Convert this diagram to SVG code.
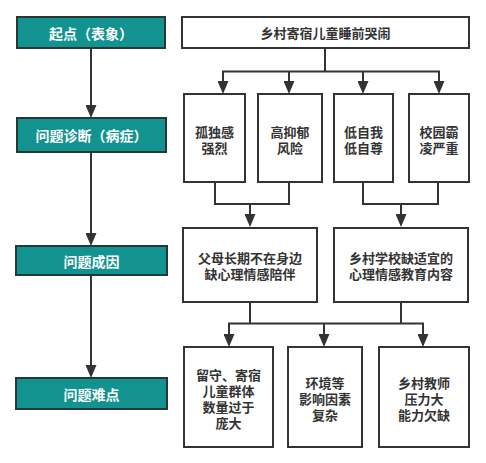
<svg xmlns="http://www.w3.org/2000/svg" width="486" height="463" viewBox="0 0 486 463">
<style>
.stage rect{fill:#12938f;stroke:#263836;stroke-width:2}
.stage text{fill:#ffffff;font-size:14px}
.box rect{fill:#ffffff;stroke:#333333;stroke-width:2}
.box text{fill:#333333;font-size:13px}
text{font-family:"Noto Sans CJK SC","Noto Sans",sans-serif;font-weight:bold;text-anchor:middle;dominant-baseline:central}
.conn path{fill:none;stroke:#333333;stroke-width:2}
</style>
<defs>
<marker id="arr" markerUnits="userSpaceOnUse" markerWidth="13" markerHeight="11" refX="9" refY="5.5" orient="auto">
<path d="M0,0 L13,5.5 L0,11 z" fill="#333333"/>
</marker>
</defs>
<rect width="486" height="463" fill="#ffffff"/>
<g class="conn" id="connectors">
<path d="M91,48 V114" marker-end="url(#arr)"/>
<path d="M91,152 V242" marker-end="url(#arr)"/>
<path d="M91,275 V374" marker-end="url(#arr)"/>
<path d="M325,48 V71.5"/>
<path d="M222,71.5 H440"/>
<path d="M223,71.5 V90" marker-end="url(#arr)"/>
<path d="M289,71.5 V90" marker-end="url(#arr)"/>
<path d="M363,71.5 V90" marker-end="url(#arr)"/>
<path d="M439,71.5 V90" marker-end="url(#arr)"/>
<path d="M215,182 V204 H289 V182"/>
<path d="M250,204 V223" marker-end="url(#arr)"/>
<path d="M363,182 V204 H438 V182"/>
<path d="M401,204 V223" marker-end="url(#arr)"/>
<path d="M250,302 V323.5"/>
<path d="M401,302 V323.5"/>
<path d="M228,323.5 H424"/>
<path d="M229,323.5 V343" marker-end="url(#arr)"/>
<path d="M324,323.5 V343" marker-end="url(#arr)"/>
<path d="M423,323.5 V343" marker-end="url(#arr)"/>
</g>
<g class="stage" id="stage1"><rect x="17" y="17" width="148" height="31"/><text x="91" y="32.5">起点（表象）</text></g>
<g class="stage" id="stage2"><rect x="17" y="118" width="149" height="34"/><text x="91.5" y="135">问题诊断（病症）</text></g>
<g class="stage" id="stage3"><rect x="16" y="246" width="151" height="29"/><text x="91.5" y="260.5">问题成因</text></g>
<g class="stage" id="stage4"><rect x="16" y="378" width="151" height="31"/><text x="91.5" y="393.5">问题难点</text></g>
<g class="box" id="top"><rect x="182" y="17" width="287" height="31"/><text x="325.5" y="32.5">乡村寄宿儿童睡前哭闹</text></g>
<g class="box" id="s1"><rect x="184" y="94" width="61" height="88"/><text x="214.5" y="131">孤独感</text><text x="214.5" y="147">强烈</text></g>
<g class="box" id="s2"><rect x="258" y="94" width="64" height="88"/><text x="290" y="131">高抑郁</text><text x="290" y="147">风险</text></g>
<g class="box" id="s3"><rect x="334" y="94" width="59" height="88"/><text x="363.5" y="131">低自我</text><text x="363.5" y="147">低自尊</text></g>
<g class="box" id="s4"><rect x="409" y="94" width="60" height="88"/><text x="439" y="131">校园霸</text><text x="439" y="147">凌严重</text></g>
<g class="box" id="c1"><rect x="183" y="228" width="134" height="74"/><text x="250" y="257">父母长期不在身边</text><text x="250" y="273">缺心理情感陪伴</text></g>
<g class="box" id="c2"><rect x="334" y="228" width="134" height="74"/><text x="401" y="257">乡村学校缺适宜的</text><text x="401" y="273">心理情感教育内容</text></g>
<g class="box" id="d1"><rect x="184" y="347" width="89" height="100"/><text x="228.5" y="374">留守、寄宿</text><text x="228.5" y="390">儿童群体</text><text x="228.5" y="406">数量过于</text><text x="228.5" y="422">庞大</text></g>
<g class="box" id="d2"><rect x="288" y="347" width="74" height="100"/><text x="325" y="382">环境等</text><text x="325" y="398">影响因素</text><text x="325" y="414">复杂</text></g>
<g class="box" id="d3"><rect x="379" y="347" width="90" height="100"/><text x="424" y="382">乡村教师</text><text x="424" y="398">压力大</text><text x="424" y="414">能力欠缺</text></g>
</svg>
